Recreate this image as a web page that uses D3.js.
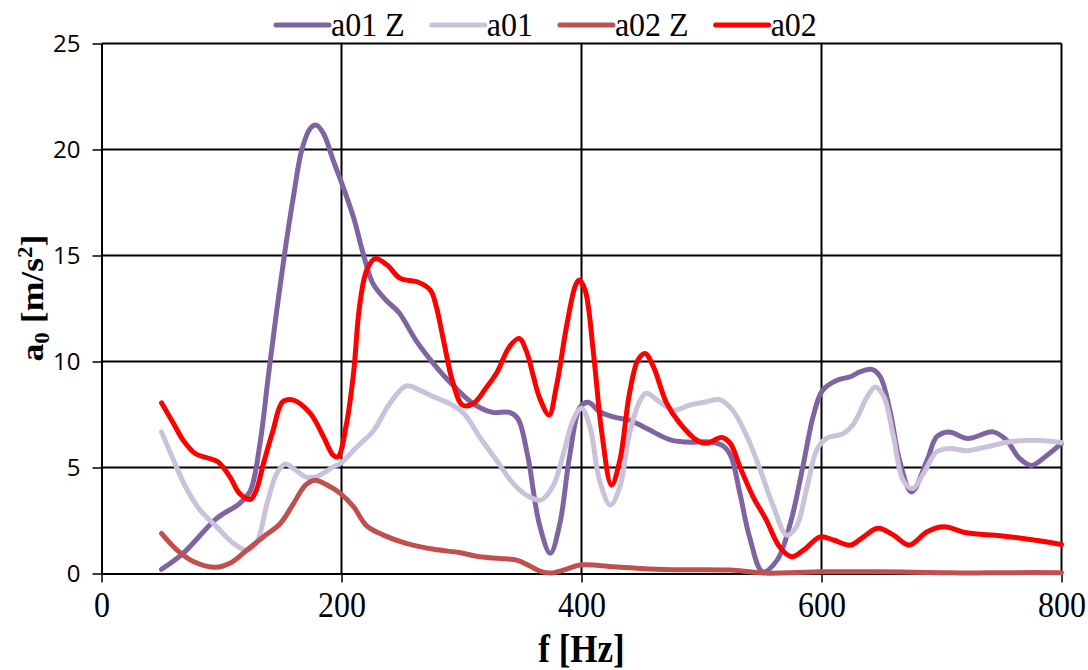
<!DOCTYPE html>
<html>
<head>
<meta charset="utf-8">
<script src="https://cdn.jsdelivr.net/npm/d3@7"></script>
<style>
  body { margin: 0; background: #fff; }
  svg { display: block; }
  .serif { font-family: "Liberation Serif", "Times New Roman", serif; }
</style>
</head>
<body>
<div id="vis"><svg></svg></div>
<script>
// tick values
const xTicks = [0, 200, 400, 600, 800];
const yTicks = [0, 5, 10, 15, 20, 25];

// series names + colours
const seriesNames = ["a01 Z", "a01", "a02 Z", "a02"];
const seriesColors = ["#8064A2", "#CCC1DA", "#C0504D", "#FF0000"];

// a01 Z
const a01zF = [50, 68, 96, 115, 124, 132, 139, 146, 153, 160, 167, 174, 179, 185, 193, 199, 210, 218, 226, 237, 248, 262, 276, 290, 310, 326, 340, 347, 355, 365, 374, 382, 390, 399, 406, 415, 429, 440, 454, 474, 488, 507, 517, 524, 532, 540, 551, 563, 574, 585, 593, 601, 613, 624, 632, 642, 649, 657, 665, 675, 688, 696, 706, 722, 743, 754, 765, 775, 788, 800];
const a01zV = [0.2, 0.95, 2.6, 3.3, 3.9, 6.1, 9.3, 12.4, 15.25, 17.8, 20.0, 21.0, 21.15, 20.75, 19.5, 18.6, 16.8, 15.1, 13.7, 12.9, 12.3, 11.0, 9.95, 9.05, 8.0, 7.6, 7.6, 7.3, 5.6, 2.3, 0.95, 2.36, 5.5, 7.86, 8.07, 7.63, 7.35, 7.24, 6.85, 6.3, 6.2, 6.2, 6.05, 5.6, 3.78, 1.73, 0.08, 0.63, 2.36, 5.19, 7.4, 8.65, 9.12, 9.28, 9.51, 9.63, 9.28, 7.7, 5.35, 3.85, 5.35, 6.45, 6.68, 6.37, 6.68, 6.3, 5.43, 5.1, 5.58, 6.14];

// a01
const a01F = [50, 60, 70, 82, 96, 110, 121, 129, 138, 146, 153, 160, 170, 179, 193, 199, 213, 227, 240, 254, 265, 277, 290, 302, 315, 329, 343, 354, 366, 376, 385, 393, 400, 407, 415, 424, 432, 440, 449, 454, 465, 477, 490, 504, 515, 526, 538, 549, 560, 571, 579, 588, 596, 604, 618, 627, 638, 645, 652, 660, 668, 676, 685, 696, 707, 721, 738, 757, 777, 800];
const a01V = [6.68, 5.35, 4.09, 3.0, 2.2, 1.42, 1.1, 1.42, 3.3, 4.72, 5.16, 4.96, 4.56, 4.56, 5.03, 5.19, 5.98, 6.76, 8.0, 8.85, 8.65, 8.33, 8.02, 7.55, 6.45, 5.35, 4.25, 3.7, 3.46, 4.09, 5.66, 7.24, 7.79, 6.92, 4.4, 3.23, 4.09, 6.6, 8.18, 8.5, 8.1, 7.7, 7.94, 8.1, 8.2, 7.7, 6.45, 4.88, 3.15, 1.81, 2.2, 4.09, 5.82, 6.37, 6.6, 7.08, 8.33, 8.8, 8.33, 6.45, 4.4, 4.01, 4.72, 5.74, 5.9, 5.79, 5.98, 6.21, 6.29, 6.18];

// a02 Z
const a02zF = [50, 63, 77, 95, 107, 121, 135, 149, 160, 170, 178, 188, 199, 210, 221, 235, 254, 277, 299, 315, 332, 346, 357, 366, 374, 385, 399, 427, 468, 524, 552, 600, 650, 700, 720, 760, 800];
const a02zV = [1.89, 1.1, 0.55, 0.29, 0.48, 1.1, 1.73, 2.36, 3.3, 4.17, 4.4, 4.17, 3.78, 3.15, 2.25, 1.81, 1.42, 1.14, 0.98, 0.79, 0.71, 0.63, 0.35, 0.1, 0.02, 0.16, 0.4, 0.32, 0.19, 0.16, 0.02, 0.08, 0.08, 0.04, 0.02, 0.04, 0.04];

// a02
const a02F = [50, 60, 68, 78, 88, 97, 107, 115, 124, 129, 135, 143, 151, 160, 174, 185, 193, 197, 204, 210, 215, 221, 228, 238, 249, 263, 274, 279, 285, 293, 301, 310, 321, 329, 340, 348, 354, 360, 365, 373, 379, 388, 395, 398, 403, 410, 417, 425, 432, 440, 447, 453, 460, 471, 482, 496, 504, 517, 524, 532, 543, 554, 565, 575, 585, 599, 610, 624, 635, 647, 660, 673, 688, 702, 721, 749, 777, 800];
const a02V = [8.05, 7.08, 6.29, 5.66, 5.46, 5.27, 4.56, 3.78, 3.5, 3.93, 5.19, 6.76, 8.1, 8.18, 7.55, 6.45, 5.58, 5.5, 7.0, 9.43, 12.58, 14.3, 14.85, 14.55, 13.92, 13.76, 13.37, 12.58, 11.0, 8.97, 7.94, 8.02, 8.8, 9.43, 10.7, 11.09, 10.5, 9.28, 8.3, 7.47, 8.8, 11.8, 13.6, 13.84, 13.37, 10.38, 6.6, 4.17, 5.35, 8.5, 10.07, 10.38, 9.75, 8.02, 7.08, 6.29, 6.14, 6.42, 6.14, 5.03, 3.62, 2.52, 1.26, 0.79, 1.1, 1.73, 1.58, 1.34, 1.73, 2.13, 1.81, 1.34, 1.97, 2.2, 1.92, 1.78, 1.58, 1.37];

const seriesF = [a01zF, a01F, a02zF, a02F];
const seriesV = [a01zV, a01V, a02zV, a02V];

var W = 1088, H = 670;
var margin = {top: 43.5, right: 26.5, bottom: 96.5, left: 101.5};

var svg = d3.select("#vis").select("svg")
  .attr("width", W)
  .attr("height", H);

var x = d3.scaleLinear().domain([0, 800]).range([margin.left, W - margin.right]);
var y = d3.scaleLinear().domain([0, 25]).range([H - margin.bottom, margin.top]);

// grid lines
svg.append("g")
  .selectAll("line")
  .data(yTicks.filter(d => d > 0))
  .join("line")
  .attr("x1", x(0)).attr("x2", x(800))
  .attr("y1", d => y(d)).attr("y2", d => y(d))
  .attr("stroke", "#000").attr("stroke-width", 2);

svg.append("g")
  .selectAll("line")
  .data(xTicks.filter(d => d > 0))
  .join("line")
  .attr("x1", d => x(d)).attr("x2", d => x(d))
  .attr("y1", y(25)).attr("y2", y(0))
  .attr("stroke", "#000").attr("stroke-width", 2);

// x axis
const xAxisG = svg.append("g")
  .attr("transform", `translate(0, ${y(0)})`)
  .call(d3.axisBottom(x).tickValues(xTicks).tickSize(9).tickPadding(14).tickSizeOuter(0));
xAxisG.select(".domain").attr("stroke", "#000").attr("stroke-width", 2);
xAxisG.selectAll(".tick line").attr("stroke", "#000").attr("stroke-width", 1.5);
xAxisG.selectAll(".tick text")
  .style("font-family", "'Liberation Serif', 'Times New Roman', serif")
  .style("font-size", "32px")
  .attr("fill", "#000")
  .attr("dy", "0.71em")
  .attr("transform", "scale(1,1.1)")
  .attr("y", 17);

// y axis
const yAxisG = svg.append("g")
  .attr("transform", `translate(${x(0)}, 0)`)
  .call(d3.axisLeft(y).tickValues(yTicks).tickSize(9).tickPadding(12).tickSizeOuter(0));
yAxisG.select(".domain").attr("stroke", "#000").attr("stroke-width", 2);
yAxisG.selectAll(".tick line").attr("stroke", "#000").attr("stroke-width", 1.5);
yAxisG.selectAll(".tick text")
  .style("font-family", "'Open Sans', 'Liberation Sans', sans-serif")
  .style("font-size", "24px")
  .attr("fill", "#000");

// axis titles
svg.append("text")
  .attr("class", "serif")
  .attr("transform", `translate(${x(400)}, 662) scale(1,1.12)`)
  .attr("text-anchor", "middle")
  .attr("font-weight", "bold")
  .attr("font-size", 35)
  .text("f [Hz]");

const yTitle = svg.append("text")
  .attr("class", "serif")
  .attr("transform", `translate(43, 298) scale(1,1.15) rotate(-90)`)
  .attr("text-anchor", "middle")
  .attr("font-weight", "bold")
  .attr("font-size", 31);
yTitle.append("tspan").text("a");
yTitle.append("tspan").attr("font-size", 20).attr("dy", 6).text("0");
yTitle.append("tspan").attr("dy", -6).text(" [m/s");
yTitle.append("tspan").attr("font-size", 20).attr("dy", -11).text("2");
yTitle.append("tspan").attr("dy", 11).text("]");

// lines
const line = d3.line()
  .x(d => x(d[0]))
  .y(d => y(d[1]))
  .curve(d3.curveCatmullRom.alpha(0.5));

const plot = svg.append("g");
seriesNames.forEach((name, i) => {
  const pts = seriesF[i].map((f, j) => [f, seriesV[i][j]]);
  plot.append("path")
    .datum(pts)
    .attr("fill", "none")
    .attr("stroke", seriesColors[i])
    .attr("stroke-width", 5)
    .attr("stroke-linejoin", "round")
    .attr("stroke-linecap", "round")
    .attr("d", line);
});

// legend
const legend = svg.append("g");
let lx = 276;
seriesNames.forEach((name, i) => {
  legend.append("line")
    .attr("x1", lx).attr("x2", lx + 53)
    .attr("y1", 25).attr("y2", 25)
    .attr("stroke", seriesColors[i])
    .attr("stroke-width", 5)
    .attr("stroke-linecap", "round");
  const t = legend.append("text")
    .attr("class", "serif")
    .attr("transform", `translate(${lx + 55}, 36) scale(1,1.05)`)
    .attr("font-size", 32)
    .attr("fill", "#000")
    .text(name);
  lx += 55 + t.node().getComputedTextLength() + 27;
});
</script>
</body>
</html>
